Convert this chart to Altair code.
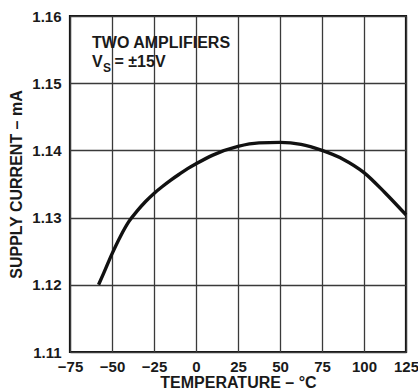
import altair as alt
import pandas as pd

# Data
temperature = [-58, -55, -50, -45, -40, -35, -30, -25, -20, -15, -10, -5, 0, 10, 25, 37.5, 50, 62.5, 75, 87.5, 100, 112.5, 125]
supply_ma = [1.1200, 1.1217, 1.1246, 1.1272, 1.1294, 1.1310, 1.1324, 1.1336, 1.13463, 1.13558, 1.13645, 1.13728, 1.1380, 1.1393, 1.1406, 1.14112, 1.1412, 1.1409, 1.1400, 1.1387, 1.1367, 1.1337, 1.1304]

x_ticks = [-75, -50, -25, 0, 25, 50, 75, 100, 125]
y_ticks = [1.11, 1.12, 1.13, 1.14, 1.15, 1.16]

df = pd.DataFrame({"t": temperature, "i": supply_ma})

FONT = "Liberation Sans"
FS = 15
TS = 16

xs = alt.Scale(domain=[-75, 125], nice=False, zero=False)
ys = alt.Scale(domain=[1.11, 1.16], nice=False, zero=False)

x_axis = alt.Axis(
    values=x_ticks, format="d", title="TEMPERATURE – °C", ticks=False, tickSize=0,
    labelPadding=19.5, labelBaseline="alphabetic", labelFlush=False, labelOverlap=False, labelBound=False,
    titleX=168, titleY=35.5, titleAlign="center", titleBaseline="alphabetic",
    domain=False, gridColor="#3a3a3a", gridWidth=1.3, gridOpacity=1,
)
y_axis = alt.Axis(
    values=y_ticks, format=".2f", title="SUPPLY CURRENT – mA", ticks=False, tickSize=0,
    labelPadding=9, labelBaseline="middle", labelFlush=False, labelOverlap=False, labelBound=False,
    titleX=-49, titleY=168, titleAngle=270, titleAlign="center", titleBaseline="alphabetic",
    domain=False, gridColor="#3a3a3a", gridWidth=1.3, gridOpacity=1,
)

line = alt.Chart(df).mark_line(color="#111111", strokeWidth=3.4, interpolate="monotone").encode(
    x=alt.X("t:Q", scale=xs, axis=x_axis),
    y=alt.Y("i:Q", scale=ys, axis=y_axis),
)

def label(text, tx, ty, size=TS):
    return alt.Chart(pd.DataFrame({"a": [0]})).mark_text(
        text=text, font=FONT, fontWeight="bold", fontSize=size, color="#1a1a1a",
        align="left", baseline="alphabetic",
    ).encode(x=alt.datum(tx, scale=xs), y=alt.datum(ty, scale=ys))

t1 = label("TWO AMPLIFIERS", -61.9, 1.15524)
t2 = label("V", -61.9, 1.15241)
t3 = label("S", -55.4, 1.1517, 12)
t4 = label("= ±15V", -48.5, 1.15241)

chart = alt.layer(line, t1, t2, t3, t4).properties(
    width=336, height=336,
    autosize=alt.AutoSizeParams(type="none"),
    padding={"left": 70, "top": 16, "right": 12, "bottom": 39},
    background="white",
).configure_view(
    stroke="#111111", strokeWidth=2.2
).configure_axis(
    labelFont=FONT, labelFontSize=FS, labelFontWeight="bold", labelColor="#1a1a1a",
    titleFont=FONT, titleFontSize=TS, titleFontWeight="bold", titleColor="#1a1a1a",
)

chart.save("out.html", embed_options={"renderer": "svg", "actions": False})
